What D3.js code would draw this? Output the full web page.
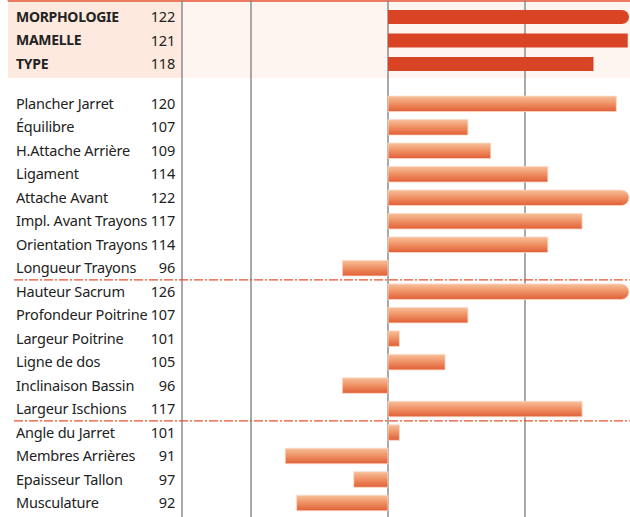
<!DOCTYPE html>
<html>
<head>
<meta charset="utf-8">
<script src="https://cdn.jsdelivr.net/npm/d3@7"></script>
<style>
  body { margin: 0; background: #fff; }
  svg { display: block; }
  text { font-family: "Noto Sans", sans-serif; fill: #222; }
</style>
</head>
<body>
<svg id="drawing_region"></svg>
<script>
// synthese index
const topLabels = ["MORPHOLOGIE", "MAMELLE", "TYPE"];
const topValues = [122, 121, 118];

const mamelleLabels = ["Plancher Jarret", "Équilibre", "H.Attache Arrière", "Ligament",
    "Attache Avant", "Impl. Avant Trayons", "Orientation Trayons", "Longueur Trayons"];
const mamelleValues = [120, 107, 109, 114, 122, 117, 114, 96];

const morphoLabels = ["Hauteur Sacrum", "Profondeur Poitrine", "Largeur Poitrine",
    "Ligne de dos", "Inclinaison Bassin", "Largeur Ischions"];
const morphoValues = [126, 107, 101, 105, 96, 117];

const membresLabels = ["Angle du Jarret", "Membres Arrières", "Epaisseur Tallon", "Musculature"];
const membresValues = [101, 91, 97, 92];

const gridTicks = [88, 100, 112];

const width = 630, height = 517;
const svg = d3.select('#drawing_region')
    .attr('width', width)
    .attr('height', height);

// rows: top group on slots 0..2, the rest after a gap
let rows = topLabels.map((l, i) => ({label: l, value: topValues[i], slot: i, top: true}));
const lower = [].concat(
    mamelleLabels.map((l, i) => ({label: l, value: mamelleValues[i]})),
    morphoLabels.map((l, i) => ({label: l, value: morphoValues[i]})),
    membresLabels.map((l, i) => ({label: l, value: membresValues[i]}))
);
lower.forEach((d, j) => { d.slot = 3.7 + j; d.top = false; });
rows = rows.concat(lower);

const yscale = d3.scaleLinear().domain([0, 20.7]).range([17, 503]);
const xscale = d3.scaleLinear().domain([88, 112]).range([251, 525]);
const xCap = 629;
const labelX = 16, numX = 175, frameX = 182;

const defs = svg.append('defs');
const grad = defs.append('linearGradient')
    .attr('id', 'barGrad').attr('x1', 0).attr('y1', 0).attr('x2', 0).attr('y2', 1);
grad.append('stop').attr('offset', '0%').attr('stop-color', '#f7c09a');
grad.append('stop').attr('offset', '45%').attr('stop-color', '#f09468');
grad.append('stop').attr('offset', '100%').attr('stop-color', '#e15f36');

// top band
svg.append('rect').attr('x', 8).attr('y', 1).attr('width', frameX - 8).attr('height', 77)
    .attr('fill', '#fde9dd');
svg.append('rect').attr('x', frameX).attr('y', 1).attr('width', width - frameX).attr('height', 77)
    .attr('fill', '#fef5f0');
svg.append('line').attr('x1', 9).attr('x2', width).attr('y1', 0.5).attr('y2', 0.5)
    .attr('stroke', '#ec7a62').attr('stroke-width', 3).attr('stroke-linecap', 'round');

// vertical lines
svg.append('line').attr('x1', frameX).attr('x2', frameX).attr('y1', 0).attr('y2', height)
    .attr('stroke', '#8c8c8c').attr('stroke-width', 1.5);
svg.selectAll('.grid').data(gridTicks).enter()
    .append('line')
    .attr('class', 'grid')
    .attr('x1', d => xscale(d)).attr('x2', d => xscale(d))
    .attr('y1', 0).attr('y2', height)
    .attr('stroke', '#8c8c8c').attr('stroke-width', 1.5);

// separators between groups
const nM = mamelleLabels.length, nMo = morphoLabels.length;
const sepSlots = [
    (lower[nM - 1].slot + lower[nM].slot) / 2,
    (lower[nM + nMo - 1].slot + lower[nM + nMo].slot) / 2
];
svg.selectAll('.sep').data(sepSlots).enter()
    .append('line')
    .attr('class', 'sep')
    .attr('x1', 14).attr('x2', width)
    .attr('y1', d => yscale(d)).attr('y2', d => yscale(d))
    .attr('stroke', '#e8532f').attr('stroke-width', 1.3)
    .attr('stroke-dasharray', '9 2 2 2');

// bars
function barPath(d) {
    const h = d.top ? 14 : 15.5;
    const y0 = yscale(d.slot) - h / 2;
    const x0 = xscale(100);
    let x1 = xscale(d.value);
    if (x1 > xCap) {
        const r = h / 2;
        return `M${x0},${y0}H${xCap - r}A${r},${r} 0 0 1 ${xCap - r},${y0 + h}H${x0}Z`;
    }
    const a = Math.min(x0, x1), b = Math.max(x0, x1);
    return `M${a},${y0}H${b}V${y0 + h}H${a}Z`;
}

svg.selectAll('.bar').data(rows).enter()
    .append('path')
    .attr('class', 'bar')
    .attr('d', barPath)
    .attr('fill', d => d.top ? '#d94425' : 'url(#barGrad)')
    .attr('stroke', d => d.top ? 'none' : '#fbd9c6')
    .attr('stroke-width', 0.8);

// labels
svg.selectAll('.lbl').data(rows).enter()
    .append('text')
    .attr('class', 'lbl')
    .attr('x', labelX)
    .attr('y', d => yscale(d.slot))
    .attr('dy', '0.35em')
    .style('font-size', d => d.top ? '14px' : '14.5px')
    .style('font-weight', d => d.top ? 'bold' : 'normal')
    .style('letter-spacing', d => d.top ? '-0.3px' : '-0.2px')
    .text(d => d.label);

svg.selectAll('.num').data(rows).enter()
    .append('text')
    .attr('class', 'num')
    .attr('x', numX)
    .attr('y', d => yscale(d.slot))
    .attr('dy', '0.35em')
    .attr('text-anchor', 'end')
    .style('font-size', '14.5px')
    .style('letter-spacing', '-0.2px')
    .text(d => d.value);
</script>
</body>
</html>
